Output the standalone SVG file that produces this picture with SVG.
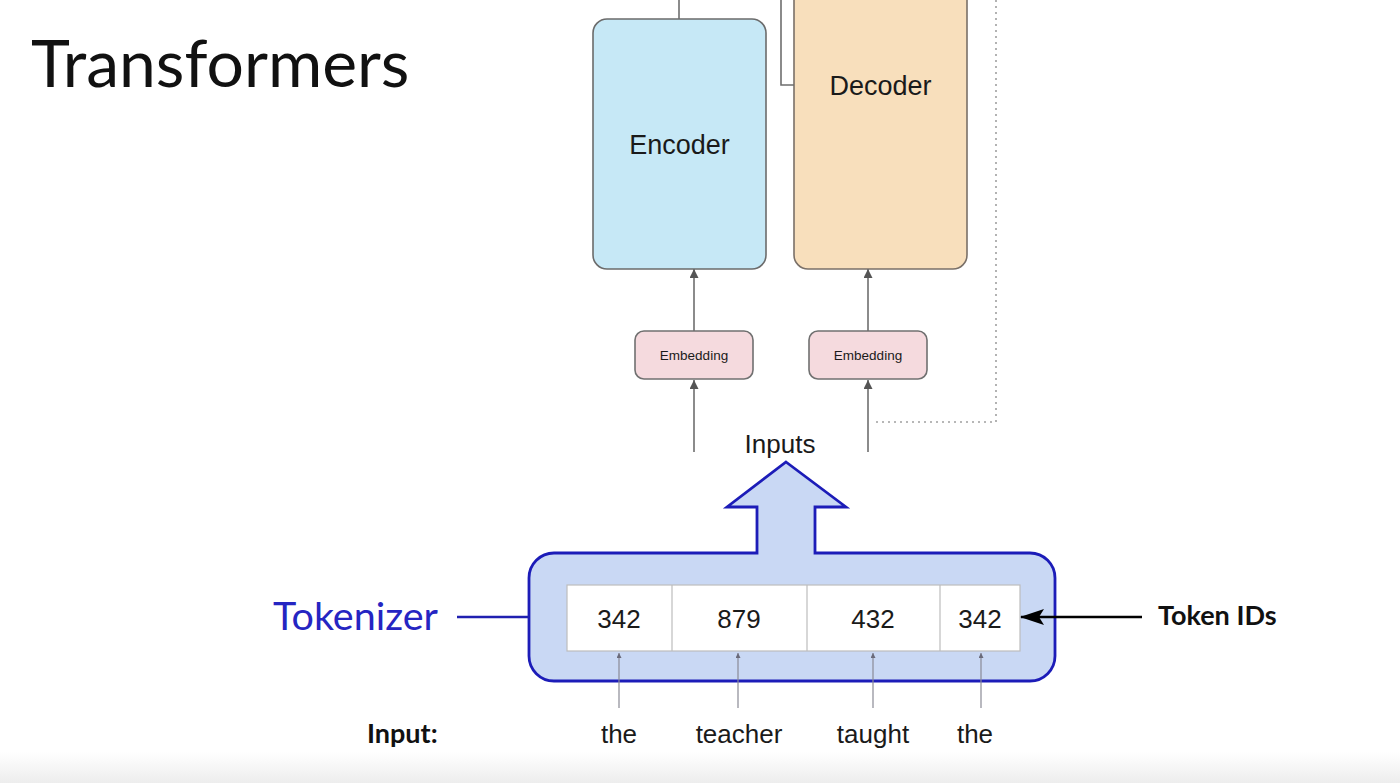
<svg xmlns="http://www.w3.org/2000/svg" width="1400" height="783" viewBox="0 0 1400 783">
<defs>
<style>
.sans{font-family:"Liberation Sans",Arial,sans-serif;fill:#1a1a1a}
.lato{font-family:Lato,"Open Sans",sans-serif}
.conn{stroke:#6e6e6e;stroke-width:1.6;fill:none}
.thin{stroke:#8a8a95;stroke-width:1.2;fill:none}
</style>
<marker id="ah" viewBox="0 0 10 10" refX="10" refY="5" markerWidth="10" markerHeight="9" markerUnits="userSpaceOnUse" orient="auto">
<path d="M0,0 L10,5 L0,10 z" fill="#555"/>
</marker>
<marker id="ahs" viewBox="0 0 10 10" refX="10" refY="5" markerWidth="6" markerHeight="5" markerUnits="userSpaceOnUse" orient="auto">
<path d="M0,0 L10,5 L0,10 z" fill="#6a6a7a"/>
</marker>
<marker id="ahb" viewBox="0 0 24 16" refX="23" refY="8" markerWidth="26" markerHeight="16" markerUnits="userSpaceOnUse" orient="auto">
<path d="M0,0 L24,8 L0,16 L5,8 z" fill="#000"/>
</marker>
<linearGradient id="bot" x1="0" y1="0" x2="0" y2="1">
<stop offset="0" stop-color="#ffffff"/>
<stop offset="1" stop-color="#ededed"/>
</linearGradient>
</defs>
<rect width="1400" height="783" fill="#fff"/>
<rect x="0" y="752" width="1400" height="31" fill="url(#bot)"/>

<text class="lato" x="31" y="87" font-size="66" fill="#111">Transformers</text>

<g id="encoder">
<rect x="593" y="19" width="173" height="250" rx="14" fill="#c6e8f6" stroke="#6b6b6b" stroke-width="1.6"/>
<text class="sans" x="679.5" y="154" font-size="27" text-anchor="middle">Encoder</text>
</g>
<g id="decoder">
<rect x="794" y="-20" width="173" height="289" rx="14" fill="#f8dfbc" stroke="#7a7068" stroke-width="1.6"/>
<text class="sans" x="880.5" y="95" font-size="27" text-anchor="middle">Decoder</text>
</g>
<g id="embedding-enc">
<rect x="635" y="331" width="118" height="48" rx="9" fill="#f5dade" stroke="#707070" stroke-width="1.6"/>
<text class="sans" x="694" y="360" font-size="13.5" text-anchor="middle" fill="#333">Embedding</text>
</g>
<g id="embedding-dec">
<rect x="809" y="331" width="118" height="48" rx="9" fill="#f5dade" stroke="#707070" stroke-width="1.6"/>
<text class="sans" x="868" y="360" font-size="13.5" text-anchor="middle" fill="#333">Embedding</text>
</g>

<g id="inputs-label">
<text class="sans" x="780" y="453" font-size="26" text-anchor="middle">Inputs</text>
</g>

<g id="tokenizer">
<path d="M786,462 L846,507 L815,507 L815,553 L1030,553 A25,25 0 0 1 1055,578 L1055,656 A25,25 0 0 1 1030,681 L554,681 A25,25 0 0 1 529,656 L529,578 A25,25 0 0 1 554,553 L757,553 L757,507 L727,507 Z" fill="#c9d8f4" stroke="#1c1cb8" stroke-width="2.8" stroke-linejoin="miter"/>
<rect x="567" y="585" width="453" height="66" fill="#fff" stroke="#bdbdbd" stroke-width="1.2"/>
<line x1="672" y1="585" x2="672" y2="651" stroke="#bdbdbd" stroke-width="1.2"/>
<line x1="807" y1="585" x2="807" y2="651" stroke="#bdbdbd" stroke-width="1.2"/>
<line x1="940" y1="585" x2="940" y2="651" stroke="#bdbdbd" stroke-width="1.2"/>
<text class="sans" x="619" y="628" font-size="26" text-anchor="middle">342</text>
<text class="sans" x="739" y="628" font-size="26" text-anchor="middle">879</text>
<text class="sans" x="873" y="628" font-size="26" text-anchor="middle">432</text>
<text class="sans" x="980" y="628" font-size="26" text-anchor="middle">342</text>
</g>

<g id="tokenizer-label">
<text class="lato" x="273" y="630" font-size="39.5" fill="#2525c2">Tokenizer</text>
</g>
<g id="token-ids-label">
<text class="lato" x="1158" y="625" font-size="27" font-weight="bold" fill="#111">Token IDs</text>
</g>

<g id="input-words">
<text class="lato" x="367" y="743" font-size="27" font-weight="bold" fill="#111">Input:</text>
<text class="sans" x="619" y="743" font-size="26" text-anchor="middle">the</text>
<text class="sans" x="739" y="743" font-size="26" text-anchor="middle">teacher</text>
<text class="sans" x="873" y="743" font-size="26" text-anchor="middle">taught</text>
<text class="sans" x="975" y="743" font-size="26" text-anchor="middle">the</text>
</g>

<g id="connectors">
<line class="conn" x1="679" y1="0" x2="679" y2="19"/>
<polyline class="conn" points="781,0 781,85 794,85"/>
<polyline points="996,0 996,422 875,422" fill="none" stroke="#a0a0a0" stroke-width="1.6" stroke-dasharray="2,4"/>
<line class="conn" x1="694" y1="331" x2="694" y2="269" marker-end="url(#ah)"/>
<line class="conn" x1="868" y1="331" x2="868" y2="269" marker-end="url(#ah)"/>
<line class="conn" x1="694" y1="452" x2="694" y2="380" marker-end="url(#ah)"/>
<line class="conn" x1="868" y1="452" x2="868" y2="380" marker-end="url(#ah)"/>
<line x1="457" y1="617" x2="529" y2="617" stroke="#2020b0" stroke-width="2.5"/>
<line x1="1142" y1="617" x2="1021" y2="617" stroke="#000" stroke-width="2.5" marker-end="url(#ahb)"/>
<line class="thin" x1="619" y1="708" x2="619" y2="653" marker-end="url(#ahs)"/>
<line class="thin" x1="738" y1="708" x2="738" y2="653" marker-end="url(#ahs)"/>
<line class="thin" x1="873" y1="708" x2="873" y2="653" marker-end="url(#ahs)"/>
<line class="thin" x1="981" y1="708" x2="981" y2="653" marker-end="url(#ahs)"/>
</g>
</svg>
